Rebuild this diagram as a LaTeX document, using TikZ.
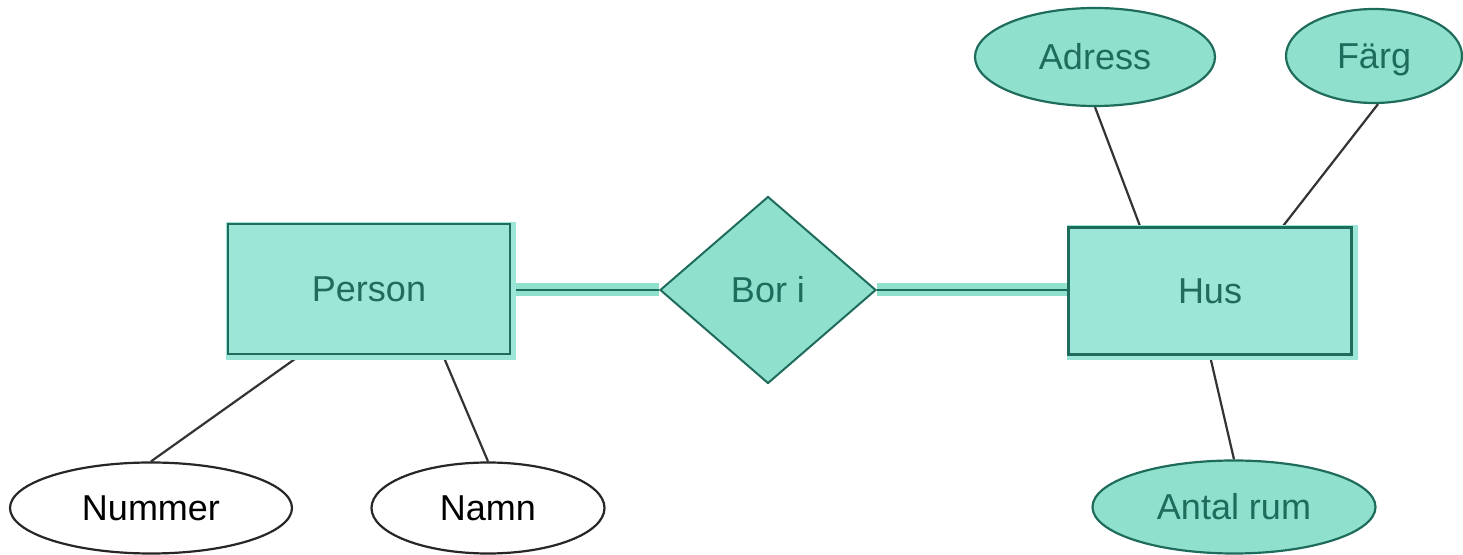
\documentclass[tikz,border=0pt]{standalone}
\usepackage{fontspec}
\setmainfont{Liberation Sans}
\usetikzlibrary{shapes.geometric,backgrounds}
\definecolor{erfill}{HTML}{8FE1CD}
\definecolor{erboxfill}{HTML}{9BE6D6}
\definecolor{erdark}{HTML}{1F6C5C}
\definecolor{erline}{HTML}{333333}
\begin{document}
\begin{tikzpicture}[x=0.5pt,y=-0.5pt,
  lbl/.style={font=\fontsize{18}{22}\selectfont, inner sep=0pt, text height=13pt, text depth=0pt},
  entity/.style={rectangle, draw=erdark, fill=erboxfill, line width=1.4pt, text=erdark, lbl,
    preaction={draw=erboxfill, line width=4pt, transform canvas={xshift=1pt, yshift=-1pt}}},
  relation/.style={diamond, draw=erdark, fill=erfill, line width=1pt, text=erdark, lbl,
    minimum width=108pt, minimum height=93.5pt},
  attrteal/.style={ellipse, draw=erdark, fill=erfill, line width=1.1pt, text=erdark, lbl},
  attrwhite/.style={ellipse, draw=black!85, fill=white, line width=1.1pt, text=black, lbl},
  attrlink/.style={draw=erline, line width=1.1pt},
  rellink/.style={draw=erfill, line width=6.5pt},
  relcore/.style={draw=erdark, line width=1.2pt}]
\useasboundingbox (0,0) rectangle (1463,555);

% entities and relationship
\node[entity, minimum width=141pt, minimum height=65pt] (person) at (369,289) {Person};
\node[relation] (bor) at (768,290) {Bor i};
\node[entity, minimum width=141.5pt, minimum height=63.5pt] (hus) at (1210,291) {Hus};

% attributes
\node[attrteal, minimum width=120pt, minimum height=49pt] (adress) at (1095,57) {Adress};
\node[attrteal, minimum width=88pt, minimum height=47pt] (farg) at (1374,56) {Färg};
\node[attrteal, minimum width=141.5pt, minimum height=46.5pt] (antal) at (1234,507) {Antal rum};
\node[attrwhite, minimum width=141pt, minimum height=45.5pt] (nummer) at (151,508) {Nummer};
\node[attrwhite, minimum width=116.5pt, minimum height=45.5pt] (namn) at (488,508) {Namn};

\begin{scope}[on background layer]
  % relationship links: teal band with a dark core
  \draw[rellink] (person.east |- bor.west) -- (bor.west);
  \draw[rellink] (bor.east) -- (bor.east -| hus.west);
  \draw[relcore] (person.east |- bor.west) -- (bor.west);
  \draw[relcore] (bor.east) -- (bor.east -| hus.west);
  % attribute links
  \draw[attrlink] ([xshift=-34.5pt]person.south) -- (nummer.north);
  \draw[attrlink] ([xshift=37pt]person.south) -- (namn.north);
  \draw[attrlink] ([xshift=-35pt]hus.north) -- (adress.south);
  \draw[attrlink] ([xshift=36.5pt]hus.north) -- ([xshift=2pt]farg.south);
  \draw[attrlink] (hus.south) -- (antal.north);
\end{scope}
\end{tikzpicture}
\end{document}
